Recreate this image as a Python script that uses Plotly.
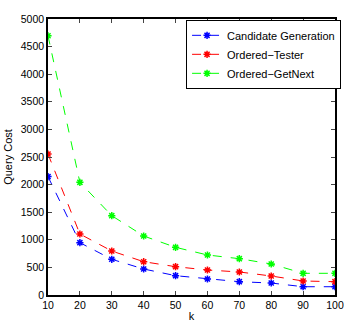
import plotly.graph_objects as go

k = [10, 20, 30, 40, 50, 60, 70, 80, 90, 100]
candidate_generation = [2145, 948, 647, 471, 350, 290, 241, 217, 150, 150]
ordered_tester = [2554, 1105, 797, 603, 513, 453, 417, 344, 254, 241]
ordered_getnext = [4697, 2041, 1437, 1069, 864, 725, 658, 562, 393, 393]

series = [
    ("Candidate Generation", candidate_generation, "#0000ff"),
    ("Ordered\u2212Tester", ordered_tester, "#ff0000"),
    ("Ordered\u2212GetNext", ordered_getnext, "#00ff00"),
]

fig = go.Figure()
for name, vals, col in series:
    fig.add_trace(go.Scatter(
        x=k, y=vals, name=name, mode="lines+markers",
        line=dict(color=col, width=1, dash="dash"),
        marker=dict(symbol="asterisk-open", size=6, color=col,
                    line=dict(color=col, width=1.5)),
    ))

font = "Liberation Sans, Arial, Helvetica, sans-serif"
fig.update_layout(
    width=344, height=328,
    margin=dict(l=48, r=3, t=19, b=33),
    paper_bgcolor="white", plot_bgcolor="white",
    font=dict(family=font, size=10.5, color="black"),
    showlegend=True,
    legend=dict(x=0.481, y=0.997, xanchor="left", yanchor="top",
                bgcolor="white", bordercolor="black", borderwidth=1,
                font=dict(size=11), tracegroupgap=0, itemwidth=30,
                itemsizing="trace"),
    xaxis=dict(range=[10, 100], tickvals=k, ticks="inside", ticklen=4,
               showline=True, linecolor="black", linewidth=1.5, mirror="ticks",
               showgrid=False, zeroline=False, automargin=False,
               title=dict(text="k", font=dict(size=11), standoff=2)),
    yaxis=dict(range=[0, 5000], dtick=500, ticks="inside", ticklen=4,
               showline=True, linecolor="black", linewidth=1.5, mirror="ticks",
               showgrid=False, zeroline=False, automargin=False,
               title=dict(text="Query Cost", font=dict(size=11), standoff=6)),
)

fig.write_html(
    "out.html",
    config={"displayModeBar": False},
    post_script="document.body.style.margin='0';document.body.style.overflow='hidden';",
)
